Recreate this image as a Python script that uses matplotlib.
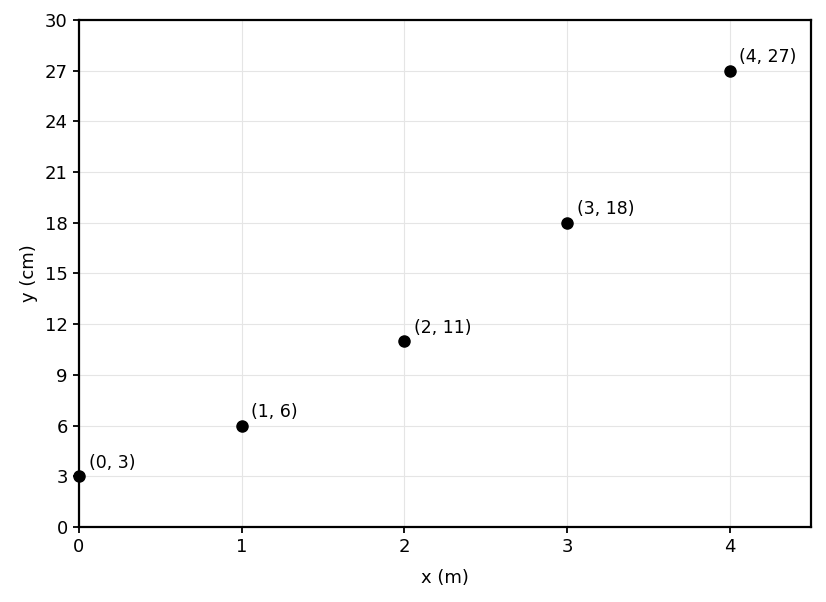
import matplotlib
matplotlib.use("Agg")
import matplotlib.pyplot as plt

x_vals = [0, 1, 2, 3, 4]
y_vals = [3, 6, 11, 18, 27]
y_ticks = [0, 3, 6, 9, 12, 15, 18, 21, 24, 27, 30]
x_ticks = [0, 1, 2, 3, 4]

fig = plt.figure(figsize=(8.26, 6.02), dpi=100)
ax = fig.add_axes([0.0956, 0.1246, 0.8862, 0.8422])

ax.plot(x_vals, y_vals, "o", color="black", markersize=8, clip_on=False, zorder=3)
for xv, yv in zip(x_vals, y_vals):
    ax.annotate("(%d, %d)" % (xv, yv), (xv, yv), xytext=(7, 6),
                textcoords="offset points", fontsize=12.5)

ax.set_xlim(0, 4.5)
ax.set_ylim(0, 30)
ax.set_xticks(x_ticks)
ax.set_yticks(y_ticks)
ax.tick_params(labelsize=13, width=1.3, length=4, pad=4)
ax.grid(True, color="#e5e5e5", linewidth=0.8)
ax.set_axisbelow(True)
for s in ax.spines.values():
    s.set_linewidth(1.6)
ax.set_xlabel("x (m)", fontsize=13, labelpad=9)
ax.set_ylabel("y (cm)", fontsize=13, labelpad=5)

fig.savefig("out.png", dpi=100)
